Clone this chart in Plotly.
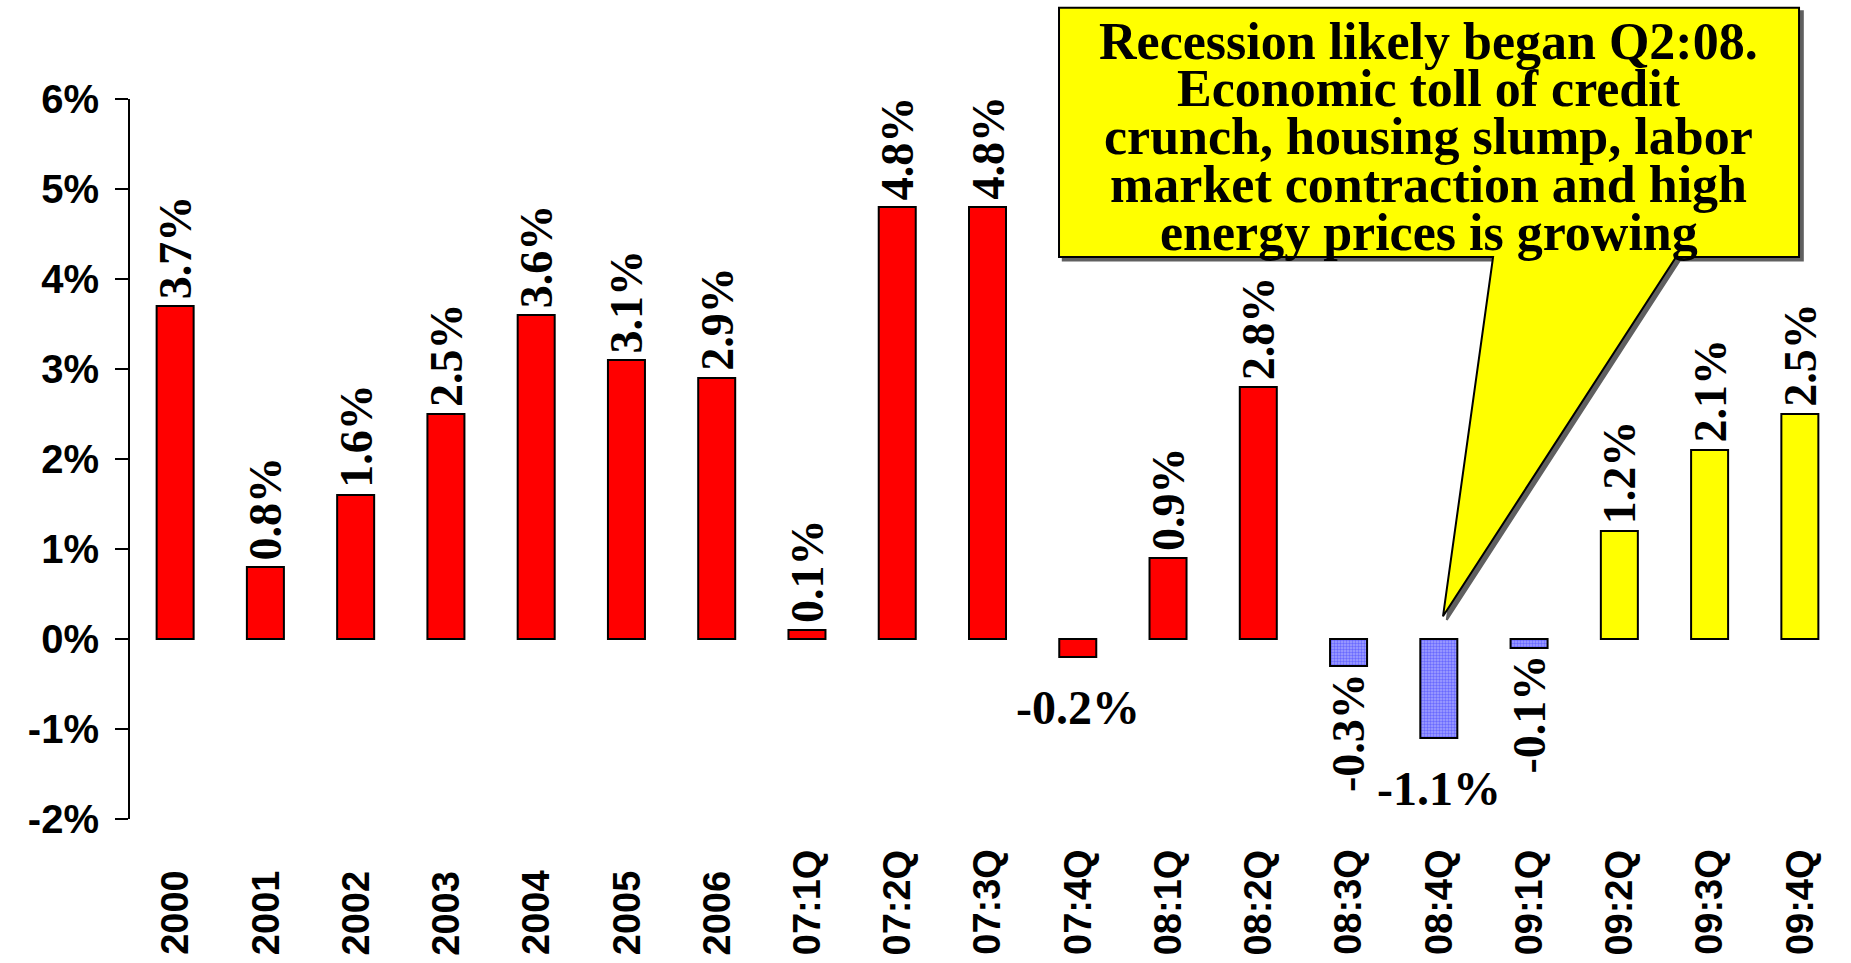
import plotly.graph_objects as go

# Real GDP growth, annual then quarterly (annualised), with forecasts
categories = ["2000", "2001", "2002", "2003", "2004", "2005", "2006",
              "07:1Q", "07:2Q", "07:3Q", "07:4Q", "08:1Q", "08:2Q",
              "08:3Q", "08:4Q", "09:1Q", "09:2Q", "09:3Q", "09:4Q"]
growth = [3.7, 0.8, 1.6, 2.5, 3.6, 3.1, 2.9,
          0.1, 4.8, 4.8, -0.2, 0.9, 2.8,
          -0.3, -1.1, -0.1, 1.2, 2.1, 2.5]
period_kind = (["actual"] * 13) + (["recession"] * 3) + (["forecast"] * 3)
flat_labels = ["07:4Q", "08:4Q"]
y_ticks = [-2, -1, 0, 1, 2, 3, 4, 5, 6]
callout_lines = ["Recession likely began Q2:08.",
                 "Economic toll of credit",
                 "crunch, housing slump, labor",
                 "market contraction and high",
                 "energy prices is growing"]

SERIF = "Liberation Serif"
SANS = "Liberation Sans"

styles = {
    "actual": dict(color="#FF0000"),
    "recession": dict(color="#8C8CFF",
                      pattern=dict(shape=".", fgcolor="#2E2EFF",
                                   bgcolor="#A4A4FF", size=3, solidity=0.5)),
    "forecast": dict(color="#FFFF00"),
}

fig = go.Figure()
for kind, style in styles.items():
    xs = [c for c, k in zip(categories, period_kind) if k == kind]
    ys = [v for v, k in zip(growth, period_kind) if k == kind]
    fig.add_trace(go.Bar(
        x=xs, y=ys, name=kind,
        marker=dict(line=dict(color="black", width=2), **style),
        hoverinfo="skip", showlegend=False,
    ))

# value labels (x given as category index so year names are not read as numbers)
for i, (c, v) in enumerate(zip(categories, growth)):
    text = f"{v:.1f}%"
    if c in flat_labels:
        fig.add_annotation(x=i, y=v, text=text, showarrow=False,
                           yanchor="top", yshift=-22,
                           font=dict(family=SERIF, size=48, color="black", weight="bold"))
    else:
        fig.add_annotation(x=i, y=v, text=text, showarrow=False, textangle=-90,
                           yanchor="bottom" if v >= 0 else "top",
                           yshift=5 if v >= 0 else -5,
                           font=dict(family=SERIF, size=46, color="black", weight="bold"))

# category labels, bottom-aligned and reading upward
for i, c in enumerate(categories):
    fig.add_annotation(x=i, y=-0.192, yref="paper", text=c, showarrow=False,
                       textangle=-90, yanchor="bottom",
                       font=dict(family=SANS, size=38, color="black", weight="bold"))

# callout bubble with tail
bx0, bx1, by0, by1 = 0.5417, 0.9732, 0.7806, 1.1268
tl, tr, tipx, tipy = 0.7948, 0.9015, 0.7656, 0.2815


def bubble(dx=0.0, dy=0.0):
    pts = [(bx0, by1), (bx1, by1), (bx1, by0), (tr, by0), (tipx, tipy),
           (tl, by0), (bx0, by0)]
    return "M " + " L ".join(f"{x + dx:.4f},{y + dy:.4f}" for x, y in pts) + " Z"


fig.add_shape(type="path", xref="paper", yref="paper", layer="above",
              path=bubble(0.0022, -0.005), fillcolor="#606060",
              line=dict(color="#606060", width=2))
fig.add_shape(type="path", xref="paper", yref="paper", layer="above",
              path=bubble(), fillcolor="#FFFF00",
              line=dict(color="black", width=2))

line_y = [1.0802, 1.0146, 0.9479, 0.8818, 0.8143]
for txt, ly in zip(callout_lines, line_y):
    fig.add_annotation(x=0.7574, y=ly, xref="paper", yref="paper", text=txt,
                       showarrow=False, xanchor="center", yanchor="middle",
                       font=dict(family=SERIF, size=52, color="black", weight="bold"))

n = len(categories)
boundaries = [i - 0.5 for i in range(n + 1)]
zero_axis = dict(overlaying="x", anchor="free", position=0.25,
                 range=[-0.5, n - 0.5], tickvals=boundaries,
                 showticklabels=False, showgrid=False, zeroline=False,
                 showline=True, linecolor="black", linewidth=2,
                 tickcolor="black", tickwidth=2, ticklen=11)

fig.update_layout(
    width=1851, height=963,
    margin=dict(l=130, r=6, t=99, b=144),
    plot_bgcolor="white", paper_bgcolor="white",
    barmode="overlay", bargap=0.59,
    xaxis=dict(categoryorder="array", categoryarray=categories,
               range=[-0.5, n - 0.5], showticklabels=False, ticks="",
               showline=False, showgrid=False, zeroline=False),
    xaxis2=dict(ticks="outside", **zero_axis),
    xaxis3=dict(ticks="inside", **zero_axis),
    yaxis=dict(range=[-2, 6], tickvals=y_ticks,
               ticktext=[f"{t}%" for t in y_ticks],
               ticks="outside", ticklen=13, tickwidth=2, tickcolor="black",
               showline=True, linecolor="black", linewidth=2,
               showgrid=False, zeroline=False, ticklabelstandoff=8,
               tickfont=dict(family=SANS, size=40, color="black", weight="bold")),
)

fig.write_html("out.html")
